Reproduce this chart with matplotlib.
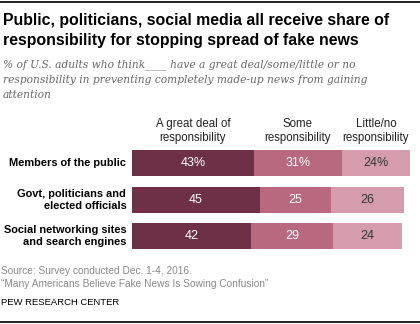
import matplotlib
matplotlib.use('Agg')
import matplotlib.pyplot as plt
from matplotlib.lines import Line2D

groups = ['Members of the public', 'Govt, politicians and\nelected officials',
          'Social networking sites\nand search engines']
great = [43, 45, 42]
some = [31, 25, 29]
little = [24, 26, 24]
labels_great = ['43%', '45', '42']
labels_some = ['31%', '25', '29']
labels_little = ['24%', '26', '24']
headers = ['A great deal of\nresponsibility', 'Some\nresponsibility', 'Little/no\nresponsibility']
colors = ['#6e3047', '#b8687f', '#d49cac']

W, H = 420, 324
fig = plt.figure(figsize=(W / 100, H / 100), dpi=100)


def px(x, y):
    return x / W, 1 - y / H


sans = 'Liberation Sans'

# rules at top and bottom
fig.add_artist(Line2D([0, 1], [1 - 1.5 / H] * 2, color='black', lw=1.2))
fig.add_artist(Line2D([0, 1], [1 - 322 / H] * 2, color='black', lw=1.2))

fig.text(*px(3, 13), 'Public, politicians, social media all receive share of\n'
         'responsibility for stopping spread of fake news',
         fontsize=11.4, fontweight='bold', family=sans, va='top',
         linespacing=1.4)
fig.text(*px(3, 59), '% of U.S. adults who think____ have a great deal/some/little or no\n'
         'responsibility in preventing completely made-up news from gaining\n'
         'attention', fontsize=7.7, style='italic', family='DejaVu Serif',
         color='#666666', va='top', linespacing=1.62)

ax = fig.add_axes([132 / W, 1 - 254.5 / H, 283.7 / W, 109.5 / H])
ypos = range(len(groups))
ax.barh(ypos, great, height=0.71, color=colors[0])
ax.barh(ypos, some, left=great, height=0.71, color=colors[1])
left2 = [g + s for g, s in zip(great, some)]
ax.barh(ypos, little, left=left2, height=0.71, color=colors[2])
ax.set_xlim(0, 100)
ax.set_ylim(2.5, -0.5)
ax.axis('off')

for i in ypos:
    ax.text(great[i] / 2, i, labels_great[i], ha='center', va='center',
            color='white', fontsize=9, family=sans)
    ax.text(great[i] + some[i] / 2, i, labels_some[i], ha='center', va='center',
            color='white', fontsize=9, family=sans)
    ax.text(left2[i] + little[i] / 2, i, labels_little[i], ha='center', va='center',
            color='#333333', fontsize=9, family=sans)
    ax.text(-2, i, groups[i], ha='right', va='center', fontsize=7.9,
            fontweight='bold', family=sans, linespacing=1.25)

# column headers over the first row
hx = [great[0] / 2, great[0] + some[0] / 2, left2[0] + little[0] / 2]
for x, h in zip(hx, headers):
    ax.text(x, -0.53, h, ha='center', va='bottom', fontsize=8.3, family=sans,
            color='#222222', linespacing=1.25)

fig.text(*px(1, 266), 'Source: Survey conducted Dec. 1-4, 2016.\n'
         '\u201cMany Americans Believe Fake News Is Sowing Confusion\u201d',
         fontsize=7.3, family=sans, color='#888888', va='top', linespacing=1.35)
fig.text(*px(1, 298), 'PEW RESEARCH CENTER', fontsize=6.8, family=sans,
         color='black', va='top')

fig.savefig('out.png', dpi=100)
